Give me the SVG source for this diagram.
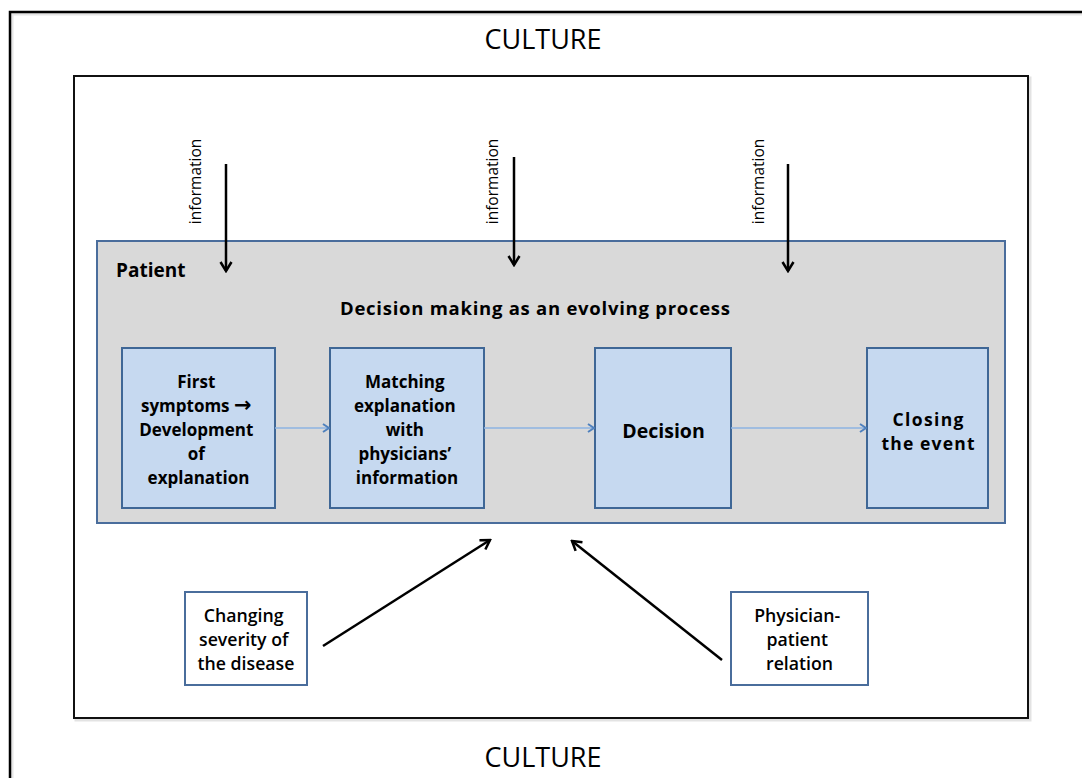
<svg xmlns="http://www.w3.org/2000/svg" width="1082" height="778" viewBox="0 0 1082 778">
  <style>
    .culture { font-family: "Open Sans", "Liberation Sans", sans-serif; font-size: 27px; fill: #000; text-anchor: middle; }
    .info { font-family: "Open Sans", "Liberation Sans", sans-serif; font-size: 15.5px; fill: #000; text-anchor: middle; }
    .bold { font-family: "Open Sans", "Liberation Sans", sans-serif; font-weight: bold; fill: #000; }
    .step { font-size: 17px; text-anchor: middle; }
    .step-lg { font-size: 19.5px; text-anchor: middle; }
    .step-md { font-size: 17.5px; text-anchor: middle; }
    .arrowglyph { font-family: "DejaVu Sans", sans-serif; font-size: 21px; }
    .factor { font-family: "Open Sans", "Liberation Sans", sans-serif; font-weight: 600; font-size: 17.7px; fill: #000; text-anchor: middle; }
    .frame { fill: #fff; stroke: #111; }
    .patient { fill: #d9d9d9; stroke: #4a6d9c; stroke-width: 2; }
    .stepbox { fill: #c6d9f0; stroke: #3f6796; stroke-width: 2; }
    .factorbox { fill: #fff; stroke: #4a6d9c; stroke-width: 2; }
    .flow { stroke: #8db3e2; stroke-width: 1.3; fill: none; }
    .push { stroke: #000; stroke-width: 2.5; fill: none; }
  </style>
  <defs>
    <marker id="chev-blue" viewBox="0 0 10 10" refX="9" refY="5" markerWidth="10" markerHeight="10" markerUnits="userSpaceOnUse" orient="auto">
      <path d="M3,1 L9,5 L3,9" fill="none" stroke="#4f81bd" stroke-width="2"/>
    </marker>
    <marker id="chev-black" viewBox="0 0 14 14" refX="12" refY="7" markerWidth="14" markerHeight="14" markerUnits="userSpaceOnUse" orient="auto">
      <path d="M3,1.5 L12,7 L3,12.5" fill="none" stroke="#000" stroke-width="2.5"/>
    </marker>
  </defs>

  <rect width="1082" height="778" fill="#fff"/>

  <!-- outer culture frame -->
  <g id="culture-frame">
    <rect x="12" y="14" width="1090" height="790" fill="none" stroke="#e6e6e6" stroke-width="3"/>
    <rect x="10" y="12" width="1090" height="790" fill="none" stroke="#000" stroke-width="2.5"/>
    <text class="culture" x="543" y="49">CULTURE</text>
    <text class="culture" x="543" y="767">CULTURE</text>
  </g>

  <!-- inner context frame -->
  <g id="context-frame">
    <rect x="76" y="78" width="954" height="642" fill="none" stroke="#e3e3e3" stroke-width="3"/>
    <rect class="frame" x="74" y="76" width="954" height="642" stroke-width="2"/>
  </g>

  <!-- patient area -->
  <g id="patient">
    <rect class="patient" x="97" y="241" width="908" height="282"/>
    <text class="bold" x="116" y="277" font-size="19">Patient</text>
    <text class="bold" x="340" y="315" font-size="18.5" textLength="390" lengthAdjust="spacing">Decision making as an evolving process</text>
  </g>

  <g id="step-symptoms">
    <rect class="stepbox" x="122" y="348" width="153" height="160"/>
    <text class="bold step" x="198.5">
      <tspan x="198.5" y="388">First</tspan>
      <tspan x="198.5" y="412">symptoms <tspan class="arrowglyph">→</tspan></tspan>
      <tspan x="198.5" y="436">Development</tspan>
      <tspan x="198.5" y="460">of</tspan>
      <tspan x="198.5" y="484">explanation</tspan>
    </text>
  </g>

  <g id="step-matching">
    <rect class="stepbox" x="330" y="348" width="154" height="160"/>
    <text class="bold step" x="407">
      <tspan x="407" y="388">Matching</tspan>
      <tspan x="407" y="412">explanation</tspan>
      <tspan x="407" y="436">with</tspan>
      <tspan x="407" y="460">physicians’</tspan>
      <tspan x="407" y="484">information</tspan>
    </text>
  </g>

  <g id="step-decision">
    <rect class="stepbox" x="595" y="348" width="136" height="160"/>
    <text class="bold step-lg" x="663.5" y="438">Decision</text>
  </g>

  <g id="step-closing">
    <rect class="stepbox" x="867" y="348" width="121" height="160"/>
    <text class="bold step-md" x="928" y="426" textLength="71" lengthAdjust="spacing">Closing</text>
    <text class="bold step-md" x="928" y="450" textLength="93" lengthAdjust="spacing">the event</text>
  </g>

  <g id="factor-severity">
    <rect class="factorbox" x="185" y="592" width="122" height="93"/>
    <text class="factor">
      <tspan x="246" y="622">Changing</tspan>
      <tspan x="246" y="646">severity of</tspan>
      <tspan x="246" y="670">the disease</tspan>
    </text>
  </g>

  <g id="factor-relation">
    <rect class="factorbox" x="731" y="592" width="137" height="93"/>
    <text class="factor">
      <tspan x="799.5" y="622">Physician-</tspan>
      <tspan x="799.5" y="646">patient</tspan>
      <tspan x="799.5" y="670">relation</tspan>
    </text>
  </g>

  <!-- information inputs -->
  <g id="information-labels">
    <text class="info" transform="translate(201,181.5) rotate(-90)">information</text>
    <text class="info" transform="translate(498,181.5) rotate(-90)">information</text>
    <text class="info" transform="translate(764,181.5) rotate(-90)">information</text>
  </g>

  <g id="connectors">
    <line class="flow" x1="275" y1="428" x2="329" y2="428" marker-end="url(#chev-blue)"/>
    <line class="flow" x1="484" y1="428" x2="594" y2="428" marker-end="url(#chev-blue)"/>
    <line class="flow" x1="731" y1="428" x2="866" y2="428" marker-end="url(#chev-blue)"/>
    <line class="push" x1="226" y1="164" x2="226" y2="271" marker-end="url(#chev-black)"/>
    <line class="push" x1="514" y1="157" x2="514" y2="265" marker-end="url(#chev-black)"/>
    <line class="push" x1="788" y1="164" x2="788" y2="271" marker-end="url(#chev-black)"/>
    <line class="push" x1="323" y1="646" x2="490" y2="540" marker-end="url(#chev-black)"/>
    <line class="push" x1="722" y1="660" x2="572" y2="541" marker-end="url(#chev-black)"/>
  </g>
</svg>
